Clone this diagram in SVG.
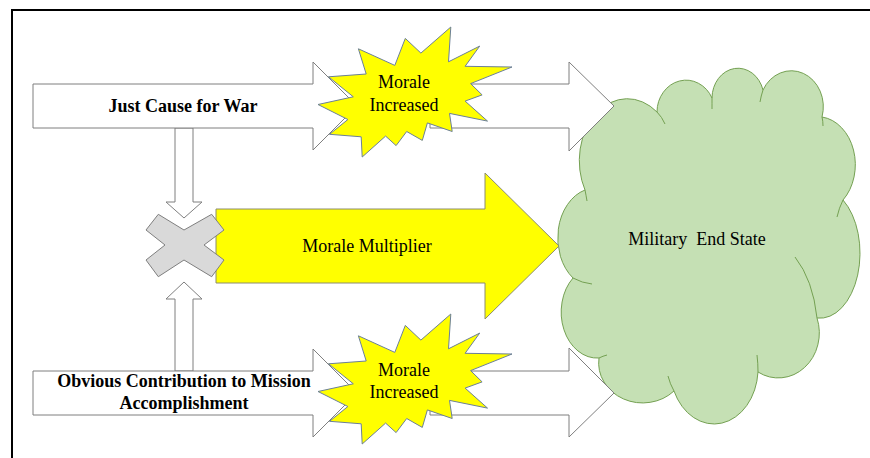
<svg xmlns="http://www.w3.org/2000/svg" xmlns:xlink="http://www.w3.org/1999/xlink" width="870" height="458" viewBox="0 0 870 458">
  <style>
    .frame { fill: none; stroke: #000; stroke-width: 2; }
    .block { fill: #fff; stroke: #7f7f7f; stroke-width: 1; stroke-linejoin: miter; }
    .yellow { fill: #ffff00; stroke: #8c8c6e; stroke-width: 1; }
    .burst { fill: #ffff00; stroke: #6b7f98; stroke-width: 1; stroke-linejoin: miter; }
    .times { fill: #d9d9d9; stroke: #7f7f7f; stroke-width: 1; }
    .cloud { fill: #c5e0b4; stroke: #74a052; stroke-width: 1; }
    .cloud-line { fill: none; stroke: #74a052; stroke-width: 1; }
    text { font-family: "Liberation Serif", "Times New Roman", serif; font-size: 18px; fill: #000; text-anchor: middle; }
    .bold { font-weight: bold; }
  </style>
  <defs>
    <!-- explosion outline, 194 x 130 -->
    <polygon id="burst-shape" class="burst" points="420.9,53.1 450.8,27 448.5,61.8 479.7,46.1 465.1,66.3 512,67 470.6,83.6 482.1,94.9 465.1,101.1 487.5,121.1 449.5,113.4 452.2,131.5 427.4,122.9 422.3,140.4 406.7,131.5 396.1,145.6 385.6,136.1 362.2,157 361.2,136.8 329.5,134.3 347.9,119.5 318,104.5 353.3,96.8 328.5,76.8 366.2,74 358.4,48.8 394.8,65.4 405.3,38.4"/>
  </defs>

  <!-- page frame: left and top edges -->
  <path class="frame" d="M12,470 V10 H880"/>

  <!-- goal cloud -->
  <g id="end-state">
    <path class="cloud" d="M585,190 A48,62 0 0 1 657,112 A29,32 0 0 1 712,98 A26,30 0 0 1 763,90 A32,36 0 0 1 822,117 A38,48 0 0 1 843,200 A40,65 0 0 1 817,318 A41,45 0 0 1 758,372 A44,56 0 0 1 674,391 A44,40 0 0 1 599,358 A36,46 0 0 1 573,278 A38,50 0 0 1 585,190 Z"/>
    <path class="cloud-line" d="M585,190 Q586,195 587,201 M657,112 Q662,117 665,124 M712,98 Q712,103 712,109 M763,90 Q761,96 760,102 M822,117 Q823,121 823,126 M843,200 Q839,208 837,217 M817,318 Q813,280 795,257 M758,372 Q758,363 757,355 M674,391 Q670,384 668,376 M599,358 Q603,356 607,355 M573,278 Q582,283 592,284"/>
    <text x="697" y="245" style="white-space:pre">Military  End State</text>
  </g>

  <g id="connectors">
    <!-- right-hand arrows into the cloud -->
    <polygon class="block" points="430,84 569,84 569,62 614,106 569,151 569,128 430,128"/>
    <polygon class="block" points="430,371 569,371 569,348 614,393 569,437 569,415 430,415"/>
    <!-- vertical arrows into the multiplier -->
    <polygon class="block" points="175,128 193,128 193,202 202,202 184,218 166,202 175,202"/>
    <polygon class="block" points="184,282 202,299 193,299 193,371 175,371 175,299 166,299"/>
  </g>

  <g id="morale-multiplier">
    <polygon class="yellow" points="216,209 485,209 485,173 559,246 485,319 485,283 216,283"/>
    <text x="367" y="252">Morale Multiplier</text>
  </g>

  <g id="multiply">
    <polygon class="times" points="146,230 158.3,214.3 184,230 211.7,214.3 224,230 204,245 224,260 211.7,276.7 184,260 158.3,276.7 146,260 165,245"/>
  </g>

  <g id="just-cause">
    <polygon class="block" points="33,84 313,84 313,62 357,106 313,150 313,128 33,128"/>
    <text class="bold" x="183" y="112">Just Cause for War</text>
  </g>

  <g id="contribution">
    <polygon class="block" points="33,371 313,371 313,349 357,393 313,437 313,415 33,415"/>
    <text class="bold" x="184" y="387">Obvious Contribution to Mission</text>
    <text class="bold" x="184" y="409">Accomplishment</text>
  </g>

  <g id="morale-top">
    <use xlink:href="#burst-shape"/>
    <text x="404" y="88">Morale</text>
    <text x="404" y="111">Increased</text>
  </g>

  <g id="morale-bottom">
    <use xlink:href="#burst-shape" transform="translate(0,287)"/>
    <text x="404" y="376">Morale</text>
    <text x="404" y="398">Increased</text>
  </g>
</svg>
